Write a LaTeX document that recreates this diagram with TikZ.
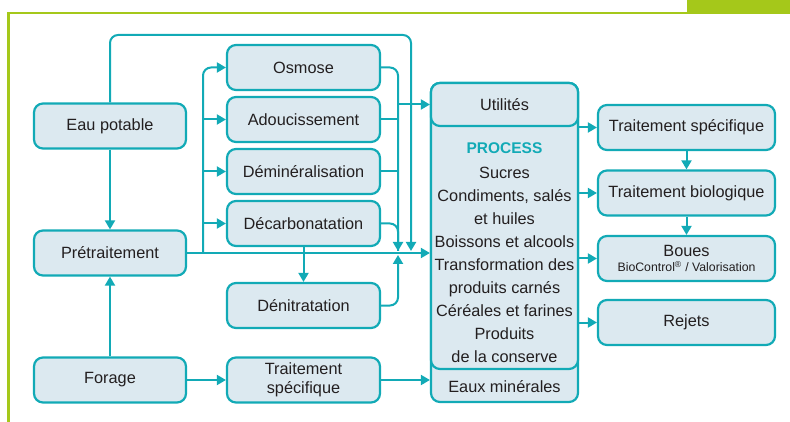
\documentclass[tikz,border=0pt]{standalone}
\usepackage{fontspec}
\setmainfont{Liberation Sans}
\usetikzlibrary{arrows.meta}
\definecolor{teal1}{RGB}{18,170,182}
\definecolor{boxfill}{RGB}{220,233,240}
\definecolor{lime}{RGB}{165,200,26}
\definecolor{txt}{RGB}{35,31,32}
\begin{document}
\begin{tikzpicture}[x=1pt,y=-1pt,
  box/.style={draw=teal1, fill=boxfill, line width=2.2pt, rounded corners=9pt,
    minimum width=152pt, minimum height=45pt, inner sep=0pt, text=txt,
    font=\fontsize{16.3}{19}\selectfont, align=center},
  rbox/.style={box, minimum width=177pt},
  lbl/.style={inner sep=0pt, text=txt, font=\fontsize{16.3}{23}\selectfont, align=center},
  conn/.style={draw=teal1, line width=2pt, rounded corners=8pt},
  arr/.style={conn, -{Triangle[length=9pt,width=10pt]}}
]
\useasboundingbox (0,0) rectangle (790,422);
% frame
\draw[lime, line width=2.5pt] (8.5,422) -- (8.5,13.2) -- (688,13.2);
\fill[lime] (687,0) rectangle (790,14.5);

% left column
\node[box] (eau) at (110,126) {Eau potable};
\node[box] (pre) at (110,253) {Prétraitement};
\node[box] (forage) at (110,380) {Forage};

% middle column
\node[box, minimum width=153pt] (osm) at (303.5,67.5) {Osmose};
\node[box, minimum width=153pt] (ado) at (303.5,119.5) {Adoucissement};
\node[box, minimum width=153pt] (dem) at (303.5,171.5) {Déminéralisation};
\node[box, minimum width=153pt] (dec) at (303.5,223.5) {Décarbonatation};
\node[box, minimum width=153pt] (den) at (303.5,305.5) {Dénitratation};
\node[box, minimum width=153pt] (tsl) at (303.5,380) {Traitement\\spécifique};

% central block
\node[box, minimum width=147pt, minimum height=319pt] (eaux) at (504.5,242.5) {};
\node[box, minimum width=147pt, minimum height=286pt] (proc) at (504.5,226) {};
\node[box, minimum width=147pt, minimum height=43pt] (util) at (504.5,104.5) {Utilités};
\node[lbl] (eauxlbl) at (504.5,387) {Eaux minérales};
\node[lbl] (proclbl) at (504.5,252.5) {{\fontsize{15.5}{23}\selectfont\bfseries\color{teal1}PROCESS}\\[2pt]
Sucres\\Condiments, salés\\et huiles\\Boissons et alcools\\Transformation des\\produits carnés\\Céréales et farines\\Produits\\de la conserve};

% right column
\node[rbox] (tsr) at (686.5,127.5) {Traitement spécifique};
\node[rbox] (bio) at (686.5,193) {Traitement biologique};
\node[rbox] (boues) at (686.5,258.5) {Boues\\[-4pt]{\fontsize{12.3}{12}\selectfont BioControl\textsuperscript{®} / Valorisation}};
\node[rbox] (rej) at (686.5,322.5) {Rejets};

% helper coordinates
\coordinate (bx) at (203,0);
\coordinate (cx) at (398,0);
\coordinate (topc) at (411,35);
\coordinate (j1) at (398,251);
\coordinate (j2) at (411,251);
\coordinate (j3) at (398,255);

% left connectors
\draw[arr] (eau.south) -- (pre.north);
\draw[arr] (forage.north) -- (pre.south);
\draw[arr] (forage.east) -- (tsl.west);
\draw[arr] (tsl.east) -- (tsl.east -| eaux.west);
\draw[arr] (pre.east) -- (pre.east -| proc.west);

% branch to treatments
\draw[arr] (pre.east -| bx) |- (osm.west);
\draw[arr] (ado.west -| bx) -- (ado.west);
\draw[arr] (dem.west -| bx) -- (dem.west);
\draw[arr] (dec.west -| bx) -- (dec.west);

% collector
\draw[arr] (osm.east) -| (j1);
\draw[conn] (ado.east) -- (ado.east -| cx);
\draw[conn] (dem.east) -- (dem.east -| cx);
\draw[conn] (dec.east) -| (j1);
\draw[arr] (util.west -| cx) -- (util.west);
\draw[arr] (eau.north) |- (topc) -- (j2);
\draw[arr] (den.east) -| (j3);
\draw[arr] (dec.south) -- (den.north);

% right connectors
\draw[arr] (tsr.west -| proc.east) -- (tsr.west);
\draw[arr] (bio.west -| proc.east) -- (bio.west);
\draw[arr] (boues.west -| proc.east) -- (boues.west);
\draw[arr] (rej.west -| proc.east) -- (rej.west);
\draw[arr] (tsr.south) -- (bio.north);
\draw[arr] (bio.south) -- (boues.north);
\end{tikzpicture}
\end{document}
